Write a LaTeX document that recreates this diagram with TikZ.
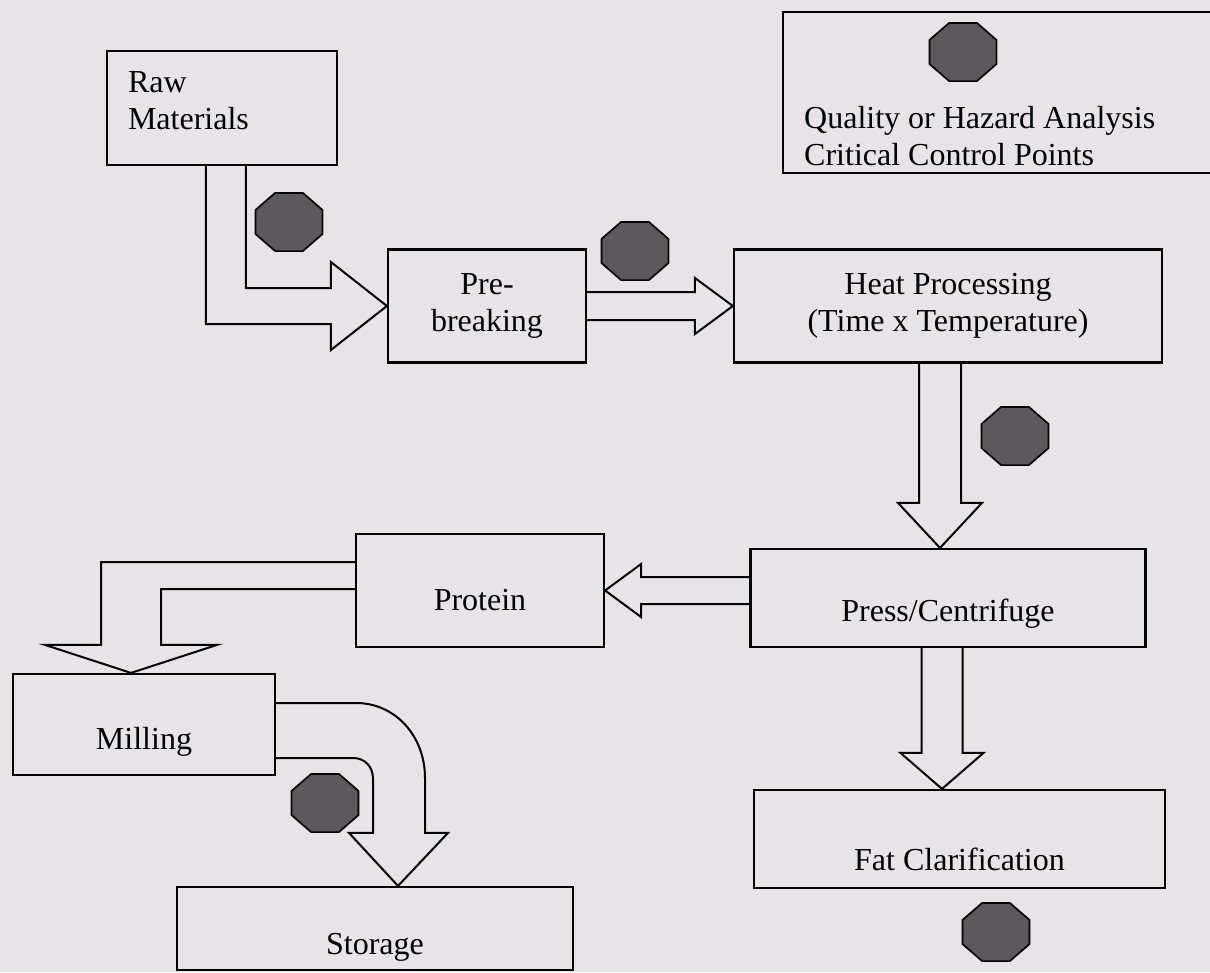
\documentclass[tikz,border=0pt]{standalone}
\usepackage{fontspec}
\setmainfont{Liberation Serif}
\usetikzlibrary{shapes.geometric,calc}
\definecolor{paper}{RGB}{232,227,231}
\definecolor{ccpGray}{RGB}{92,88,94}

\begin{document}
\begin{tikzpicture}[
        x=1pt, y=-1pt,
        stage/.style={rectangle, draw=black, line width=2.2pt, inner sep=0pt, align=center, font=\fontsize{32}{37}\selectfont},
        low/.style={text height=#1, text depth=0pt},
        ccp/.style={regular polygon, regular polygon sides=8, draw=black, line width=1.7pt, fill=ccpGray, minimum size=63pt, inner sep=0pt, xscale=1.15},
        flow/.style={draw=black, line width=2pt, line join=miter}
    ]
        % Page
        \fill[paper] (0,0) rectangle (1210,972);
        \useasboundingbox (0,0) rectangle (1210,972);
        \clip (0,0) rectangle (1210,972);

        % Process stages
        \node[stage, align=left, text width=188pt, text depth=52pt, minimum width=230pt, minimum height=114pt] (raw) at (222,108) {Raw\\Materials};
        \node[stage, minimum width=198pt, minimum height=113pt] (pre) at (487,306) {Pre-\\breaking};
        \node[stage, minimum width=428pt, minimum height=113pt] (heat) at (948,306) {Heat Processing\\(Time x Temperature)};
        \node[stage, low=46pt, minimum width=395pt, minimum height=98pt] (press) at (948,598) {Press/Centrifuge};
        \node[stage, low=40pt, minimum width=248pt, minimum height=113pt] (protein) at (480,590.5) {Protein};
        \node[stage, low=50pt, minimum width=262pt, minimum height=101pt] (milling) at (144,724.5) {Milling};
        \node[stage, low=52pt, minimum width=396pt, minimum height=83pt] (storage) at (375,928.5) {Storage};
        \node[stage, low=62pt, minimum width=411pt, minimum height=98pt] (fat) at (959.5,839) {Fat Clarification};

        % Legend
        \node[stage, minimum width=450pt, minimum height=161pt] (legend) at (1008,92.5) {};
        \node[ccp] (ccp0) at (963,52) {};
        \node[anchor=west, align=left, inner sep=0pt, font=\fontsize{32}{37}\selectfont] (legendtext) at (804,136) {Quality or Hazard Analysis\\Critical Control Points};

        % Critical control points
        \node[ccp] (ccp1) at (289,222) {};
        \node[ccp] (ccp2) at (635,251) {};
        \node[ccp] (ccp3) at (1015,436) {};
        \node[ccp] (ccp4) at (325,803) {};
        \node[ccp] (ccp5) at (996,932) {};

        % Block arrows
        \draw[flow] ([xshift=100pt]raw.south west) |- ([shift={(-56,18)}]pre.west) -- ++(0,26) -- (pre.west) -- ++(-56,-44) -- ++(0,26) -| ([xshift=140pt]raw.south west);
        \draw[flow] ([shift={(0,-14)}]pre.east) -- ([shift={(-38,-14)}]heat.west) -- ++(0,-14) -- (heat.west) -- ++(-38,28) -- ++(0,-14) -- ([shift={(0,14)}]pre.east);
        \draw[flow] ([xshift=-29pt]heat.south) -- ([shift={(-29,-45)}]press.north) -- ++(-21,0) -- ([xshift=-8pt]press.north) -- ++(42,-45) -- ++(-21,0) -- ([xshift=13pt]heat.south);
        \draw[flow] ([xshift=-26.5pt]press.south) -- ([shift={(-38,-36)}]fat.north) -- ++(-21,0) -- ([xshift=-17.5pt]fat.north) -- ++(41.5,-36) -- ++(-21,0) -- ([xshift=14.5pt]press.south);
        \draw[flow] ([shift={(0,-21)}]press.west) -- ([shift={(36,-13.5)}]protein.east) -- ++(0,-13) -- (protein.east) -- ++(36,26.5) -- ++(0,-13) -- ([shift={(0,6)}]press.west);
        \draw[flow] ([shift={(0,-28.5)}]protein.west) -| ([shift={(-43,-28)}]milling.north) -- ++(-56,0) -- ([xshift=-13pt]milling.north) -- ++(86,-28) -- ++(-56,0) |- ([shift={(0,-1.5)}]protein.west);
        \draw[flow] ([shift={(0,-21.5)}]milling.east) -- ++(80,0) .. controls +(39,0) and +(0,-42) .. ([shift={(50,-108)}]storage.north) -- ([shift={(50,-53)}]storage.north) -- ++(23,0) -- ([xshift=23pt]storage.north) -- ++(-49,-53) -- ++(24,0) -- ++(0,-54) .. controls +(0,-12) and +(12,0) .. ([shift={(77,33.5)}]milling.east) -- ([shift={(0,33.5)}]milling.east);

    \end{tikzpicture}
\end{document}
